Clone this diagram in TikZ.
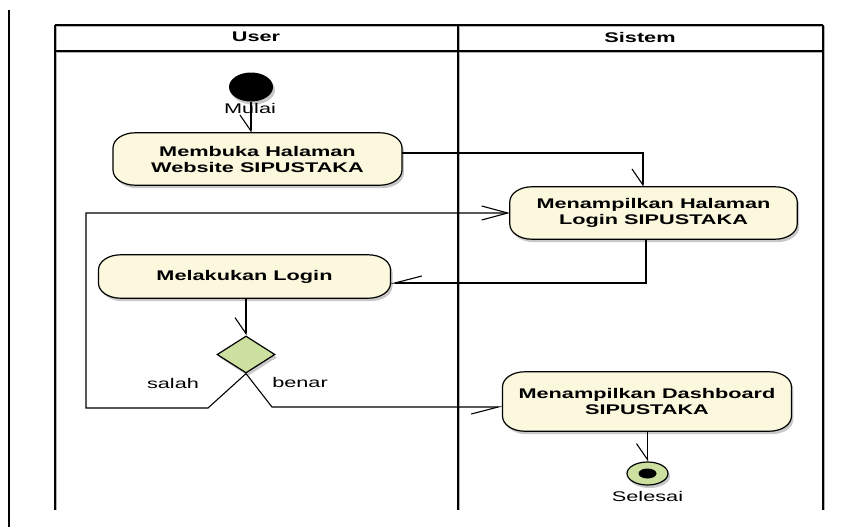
\documentclass[tikz,border=0pt]{standalone}
\usepackage{fontspec}
\setmainfont{Liberation Sans}
\usetikzlibrary{arrows.meta,shapes.geometric,shadows}

\definecolor{actfill}{RGB}{251,248,221}
\definecolor{decfill}{RGB}{204,224,160}
\definecolor{shadegray}{RGB}{200,200,200}

\tikzset{
  barbh/.tip={Straight Barb[harpoon,swap,length=27pt,width=14pt]},
  barbv/.tip={Straight Barb[harpoon,swap,length=16pt,width=22pt]},
  barbfull/.tip={Straight Barb[length=26pt,width=14pt]},
  softshadow/.style={drop shadow={shadow xshift=2pt,shadow yshift=-3pt,fill=shadegray,opacity=1}},
  txt/.style={font=\fontsize{14}{16}\selectfont,xscale=1.55,inner sep=0pt},
  hdr/.style={font=\fontsize{14}{16}\selectfont\bfseries,xscale=1.55,inner sep=0pt},
  act/.style={align=center,font=\fontsize{14}{16}\selectfont\bfseries,xscale=1.55,inner sep=0pt},
  actbox/.style={draw=black,line width=1.2pt,fill=actfill,softshadow},
  conn/.style={draw=black,line width=1.1pt},
  lane/.style={draw=black,line width=1.6pt},
  laneshade/.style={draw=gray!60,line width=1pt},
}

% outline of an action box: straight edges with elliptic corners
\newcommand\pillpath[1]{([xshift=22pt]#1.north west) -- ([xshift=-22pt]#1.north east)
  arc[start angle=90,end angle=0,x radius=22pt,y radius=15pt] -- ([yshift=15pt]#1.south east)
  arc[start angle=0,end angle=-90,x radius=22pt,y radius=15pt] -- ([xshift=22pt]#1.south west)
  arc[start angle=270,end angle=180,x radius=22pt,y radius=15pt] -- ([yshift=-15pt]#1.north west)
  arc[start angle=180,end angle=90,x radius=22pt,y radius=15pt] -- cycle}

\begin{document}
\begin{tikzpicture}[x=1pt,y=-1pt]
\useasboundingbox (0,0) rectangle (858,527);

% page margin rule
\draw[line width=1.5pt] (9,10) -- (9,527);

% swimlane frame (shade first, then the black rules)
\draw[laneshade] (56.5,26.5) -- (824.5,26.5);
\draw[laneshade] (56.5,52.5) -- (824.5,52.5);
\draw[laneshade] (56.5,26.5) -- (56.5,510);
\draw[laneshade] (459.5,26.5) -- (459.5,510);
\draw[laneshade] (824.5,26.5) -- (824.5,510);
\draw[lane] (55,25) -- (823,25);
\draw[lane] (55,51) -- (823,51);
\draw[lane] (55,25) -- (55,510);
\draw[lane] (458,25) -- (458,510);
\draw[lane] (823,25) -- (823,510);

\node[hdr] (huser) at (256,37) {User};
\node[hdr] (hsys) at (640,37) {Sistem};

% start / end
\node[ellipse,fill=black,minimum width=44pt,minimum height=29pt,inner sep=0pt,softshadow] (start) at (251,87) {};
\node[txt] (mulai) at (250,108) {Mulai};

\node[ellipse,draw=black,line width=1.2pt,fill=decfill,minimum width=41pt,minimum height=23pt,inner sep=0pt,softshadow] (stop) at (647.5,473.5) {};
\node[ellipse,fill=black,minimum width=18pt,minimum height=10pt,inner sep=0pt] (stopdot) at (stop) {};
\node[txt] (selesai) at (647.5,496) {Selesai};

% actions: place the frames, draw the outlines, then set the texts on top
\path (257.5,159) node[act,minimum width=186pt,minimum height=52pt] (memb) {\phantom{M}};
\path (653.5,213) node[act,minimum width=185pt,minimum height=52pt] (login) {\phantom{M}};
\path (244.5,276.5) node[act,minimum width=188pt,minimum height=43pt] (dologin) {\phantom{M}};
\path (647,401.5) node[act,minimum width=186pt,minimum height=59pt] (dash) {\phantom{M}};

\path[actbox] \pillpath{memb};
\path[actbox] \pillpath{login};
\path[actbox] \pillpath{dologin};
\path[actbox] \pillpath{dash};

\node[act] (membtxt) at (memb) {Membuka Halaman\\Website SIPUSTAKA};
\node[act] (logintxt) at (login) {Menampilkan Halaman\\Login SIPUSTAKA};
\node[act] (dologintxt) at (dologin) {Melakukan Login};
\node[act] (dashtxt) at (dash) {Menampilkan Dashboard\\SIPUSTAKA};

% decision
\node[diamond,draw=black,line width=1.2pt,fill=decfill,aspect=1.57,minimum width=58pt,minimum height=37pt,inner sep=0pt,softshadow] (dec) at (246,354.5) {};
\node[txt] (salah) at (173,383) {salah};
\node[txt] (benar) at (300,382) {benar};

% flows
\draw[conn,-barbv] (start.south) -- (start.south |- memb.north);
\draw[conn,-barbv] (memb.east |- 0,153) -| (login.north -| 643,0);
\draw[conn,-barbh] (login.south -| 646,0) |- (dologin.east |- 0,283);
\draw[conn,-barbv] (dologin.south -| dec.north) -- (dec.north);
\draw[conn,-barbfull] (dec.south) -- (208,408) -- (86,408) |- (login.west);
\draw[conn,-barbh] (dec.south) -- (272,407) -- (dash.west |- 0,407);
\draw[conn,-barbv] (dash.south -| stop.north) -- (stop.north);
\end{tikzpicture}
\end{document}
